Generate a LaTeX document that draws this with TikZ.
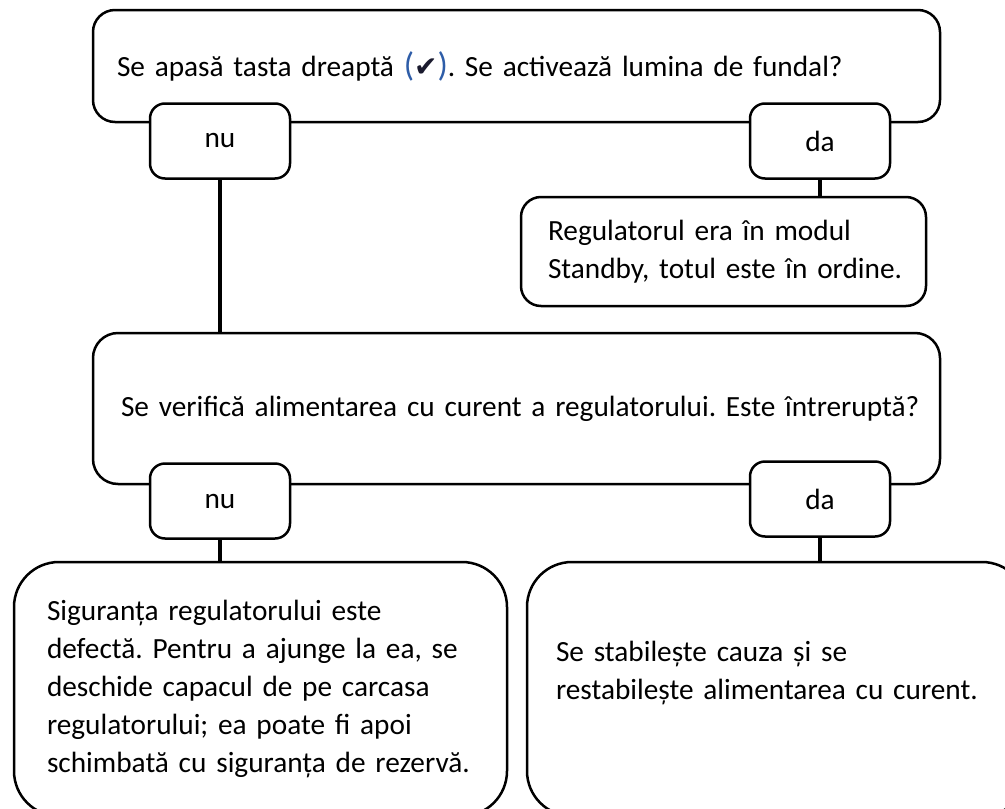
\documentclass[tikz,border=0pt]{standalone}
\usepackage{fontspec}
\setmainfont{Carlito}
\newfontfamily\symfont{DejaVu Sans}
\definecolor{parblue}{HTML}{2E5DA8}
\definecolor{checkdark}{HTML}{1A1A2E}
\begin{document}
\frenchspacing
\begin{tikzpicture}[x=1pt,y=-1pt,
  txt/.style={font=\fontsize{29.3}{38}\selectfont\frenchspacing, align=left, inner ysep=0pt},
  bigbox/.style={draw, line width=2.5pt, fill=white, rounded corners=#1, txt},
  tagbox/.style={draw, line width=2.5pt, fill=white, rounded corners=15pt, minimum width=140pt, minimum height=75pt, inner sep=0pt, font=\fontsize{29.3}{38}\selectfont},
  link/.style={line width=4.5pt}]
\useasboundingbox (0,0) rectangle (1005,809);
% top question
\node[bigbox=22pt, minimum height=112pt, inner xsep=24pt, text width=799pt] (q1) at (516.5,66)
  {\mbox{Se apasă tasta dreaptă {\fontsize{34}{34}\selectfont\color{parblue}(}{\symfont\color{checkdark}\fontsize{28}{28}\selectfont ✔}{\fontsize{34}{34}\selectfont\color{parblue})}. Se activează lumina de fundal?}};
\node[tagbox] (nu1) at (220,141) {nu};
\node[tagbox] (da1) at (820,141) {da};
% result
\node[bigbox=20pt, minimum height=109pt, inner xsep=27pt, text width=351pt] (res) at (723.5,251.5)
  {\mbox{Regulatorul era în modul}\\\mbox{Standby, totul este în ordine.}};
% second question
\node[bigbox=25pt, minimum height=151pt, inner xsep=28pt, text width=791pt] (q2) at (516.5,408.5)
  {\mbox{Se verifică alimentarea cu curent a regulatorului. Este întreruptă?}};
\node[tagbox] (nu2) at (220,501) {nu};
\node[tagbox] (da2) at (820,499) {da};
% bottom boxes
\node[bigbox=45pt, minimum height=254pt, inner xsep=33pt, text width=427pt] (bl) at (260.5,689)
  {\mbox{Siguranța regulatorului este}\\\mbox{defectă. Pentru a ajunge la ea, se}\\\mbox{deschide capacul de pe carcasa}\\\mbox{regulatorului; ea poate fi apoi}\\\mbox{schimbată cu siguranța de rezervă.}};
\node[bigbox=45pt, minimum height=254pt, inner xsep=29pt, text width=442pt] (br) at (777,689)
  {\mbox{Se stabilește cauza și se}\\\mbox{restabilește alimentarea cu curent.}\\\mbox{}};
% connectors
\draw[link] (nu1.south) -- (nu1.south |- q2.north);
\draw[link] (da1.south) -- (da1.south |- res.north);
\draw[link] (nu2.south) -- (nu2.south |- bl.north);
\draw[link] (da2.south) -- (da2.south |- br.north);
\end{tikzpicture}
\end{document}
